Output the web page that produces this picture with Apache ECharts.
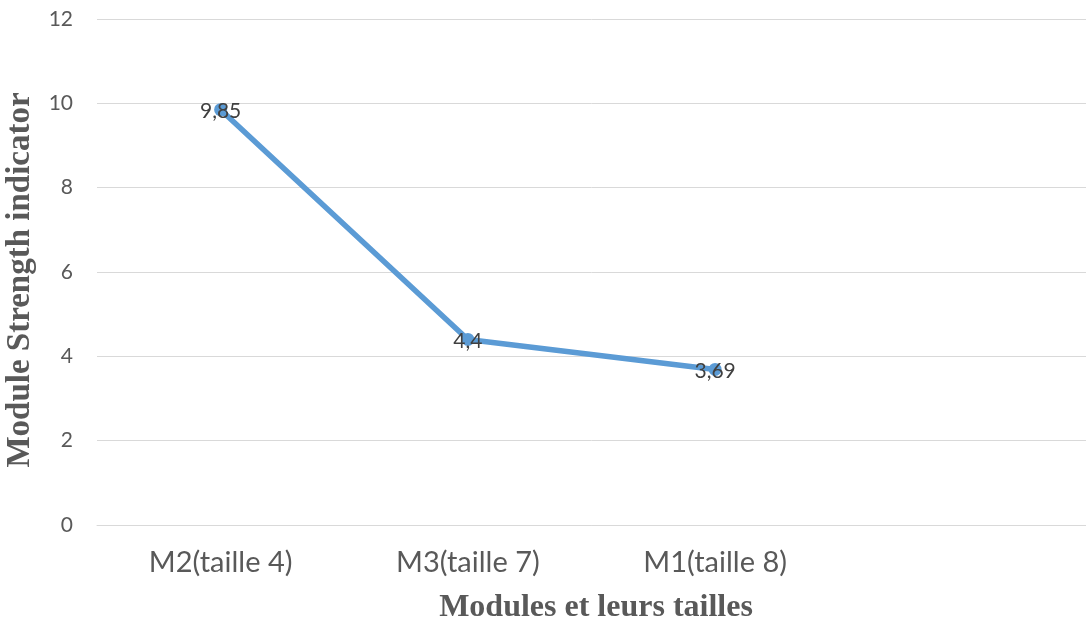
<!DOCTYPE html>
<html>
<head>
<meta charset="utf-8">
<script src="https://cdn.jsdelivr.net/npm/echarts@6/dist/echarts.min.js"></script>
<style>html,body{margin:0;padding:0;background:#fff;}#c{width:1086px;height:628px;}</style>
</head>
<body>
<div id="c"></div>
<script>
const categories = ['M2(taille 4)', 'M3(taille 7)', 'M1(taille 8)', ''];
const values = [9.85, 4.4, 3.69, null];
const yTicks = [0, 2, 4, 6, 8, 10, 12];
const xTitle = 'Modules et leurs tailles';
const yTitle = 'Module Strength indicator';

const chart = echarts.init(document.getElementById('c'), null, {renderer: 'canvas'});
chart.setOption({
  animation: false,
  backgroundColor: '#fff',
  grid: {left: 97, top: 19, width: 998, height: 506, containLabel: false},
  xAxis: {
    type: 'category',
    data: categories,
    boundaryGap: true,
    axisLine: {show: true, lineStyle: {color: '#d9d9d9', width: 1}},
    axisTick: {show: false},
    axisLabel: {color: '#595959', fontSize: 29, fontFamily: 'Lato', margin: 23, interval: 0}
  },
  yAxis: {
    type: 'value',
    min: yTicks[0],
    max: yTicks[yTicks.length - 1],
    interval: 2,
    axisLine: {show: false},
    axisTick: {show: false},
    splitLine: {lineStyle: {color: '#d9d9d9', width: 1}},
    axisLabel: {color: '#595959', fontSize: 21, fontFamily: 'Lato', margin: 24}
  },
  series: [{
    type: 'line',
    data: values,
    symbol: 'circle',
    symbolSize: 13,
    lineStyle: {color: '#5B9BD5', width: 5.5},
    itemStyle: {color: '#5B9BD5'},
    label: {
      show: true,
      position: 'inside',
      color: '#404040',
      fontSize: 21,
      fontFamily: 'Lato',
      offset: [0, 2],
      formatter: p => String(p.value).replace('.', ',')
    }
  }],
  graphic: [
    {type: 'text', x: 596, y: 608, style: {text: xTitle, x: 0, y: 0, align: 'center', verticalAlign: 'middle', font: 'bold 32px "Liberation Serif"', fill: '#595959'}},
    {type: 'text', x: 20, y: 280, rotation: Math.PI / 2, style: {text: yTitle, x: 0, y: 0, align: 'center', verticalAlign: 'middle', font: 'bold 33px "Liberation Serif"', fill: '#595959'}}
  ]
});
</script>
</body>
</html>
